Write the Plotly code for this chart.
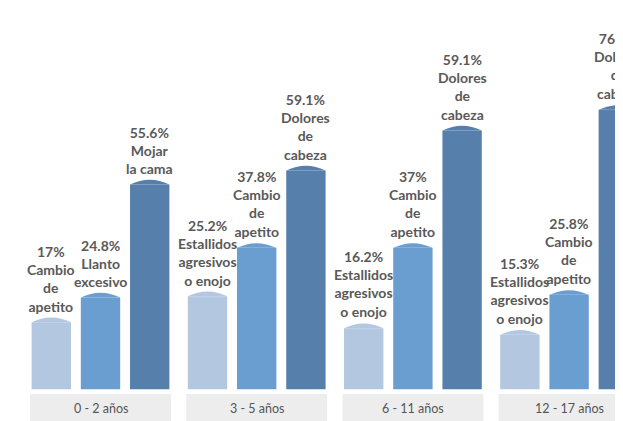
import plotly.graph_objects as go

# Grupos de edad (categorías)
grupos = ["0 - 2 años", "3 - 5 años", "6 - 11 años", "12 - 17 años"]

# Porcentajes rotulados (barra clara, media, oscura de cada grupo)
pct_claro = [17, 25.2, 16.2, 15.3]
pct_medio = [24.8, 37.8, 37, 25.8]
pct_oscuro = [55.6, 59.1, 59.1, 76.1]

# Altura de cada barra tal como aparece dibujada en el gráfico (misma escala en %)
alto_claro = [19.4, 26.4, 17.8, 16.0]
alto_medio = [26.1, 39.5, 39.5, 26.8]
alto_oscuro = [56.6, 60.4, 71.2, 76.8]

# Síntomas
sint_claro = ["Cambio<br>de<br>apetito", "Estallidos<br>agresivos<br>o enojo",
              "Estallidos<br>agresivos<br>o enojo", "Estallidos<br>agresivos<br>o enojo"]
sint_medio = ["Llanto<br>excesivo", "Cambio<br>de<br>apetito",
              "Cambio<br>de<br>apetito", "Cambio<br>de<br>apetito"]
sint_oscuro = ["Mojar<br>la cama", "Dolores<br>de<br>cabeza",
               "Dolores<br>de<br>cabeza", "Dolores<br>de<br>cabeza"]

colores = ["#b3c7e1", "#6a9ed1", "#577fab"]
texto_color = "#595959"
fuente = "Lato, 'Open Sans', sans-serif"

series = [
    (pct_claro, alto_claro, sint_claro, colores[0], -1),
    (pct_medio, alto_medio, sint_medio, colores[1], 0),
    (pct_oscuro, alto_oscuro, sint_oscuro, colores[2], 1),
]

paso = 0.315      # separación entre barras de un grupo
ancho = 0.252     # ancho de barra
cupula = 1.27     # altura del arco superior

fig = go.Figure()
shapes = []
annotations = []

# cajas grises de las categorías
for g, nombre in enumerate(grupos):
    shapes.append(dict(type="rect", xref="x", yref="y",
                       x0=g - 0.451, x1=g + 0.451, y0=-9, y1=-1.27,
                       fillcolor="#ededed", line=dict(width=0), layer="below"))
    annotations.append(dict(x=g, y=-5.1, xref="x", yref="y", text=nombre,
                            showarrow=False,
                            font=dict(family=fuente, size=12.5, color="#555555")))

for pct, alto, sint, color, k in series:
    xs = [g + k * paso for g in range(len(grupos))]
    fig.add_trace(go.Bar(x=xs, y=[a - cupula for a in alto], width=ancho,
                         marker=dict(color=color, line=dict(width=0)),
                         hoverinfo="skip", showlegend=False))
    for x, a, p, s in zip(xs, alto, pct, sint):
        xl, xr = x - ancho / 2, x + ancho / 2
        shapes.append(dict(type="path", xref="x", yref="y",
                           path=f"M {xl},{a - cupula} Q {x},{a + cupula} {xr},{a - cupula} Z",
                           fillcolor=color, line=dict(width=0)))
        annotations.append(dict(x=x, y=a, xref="x", yref="y", yanchor="bottom",
                                text=f"<b>{p}%<br>{s}</b>", showarrow=False,
                                yshift=1, align="center",
                                font=dict(family=fuente, size=14, color=texto_color)))

# la página añade 8 px de margen, por eso la figura mide 615x413
fig.update_layout(
    width=615, height=413,
    margin=dict(l=0, r=0, t=0, b=0),
    paper_bgcolor="white", plot_bgcolor="white",
    barmode="overlay",
    xaxis=dict(range=[-0.5922, 3.345], visible=False),
    yaxis=dict(range=[-8.57, 103.05], visible=False),
    shapes=shapes, annotations=annotations,
)

fig.write_html("out.html")
